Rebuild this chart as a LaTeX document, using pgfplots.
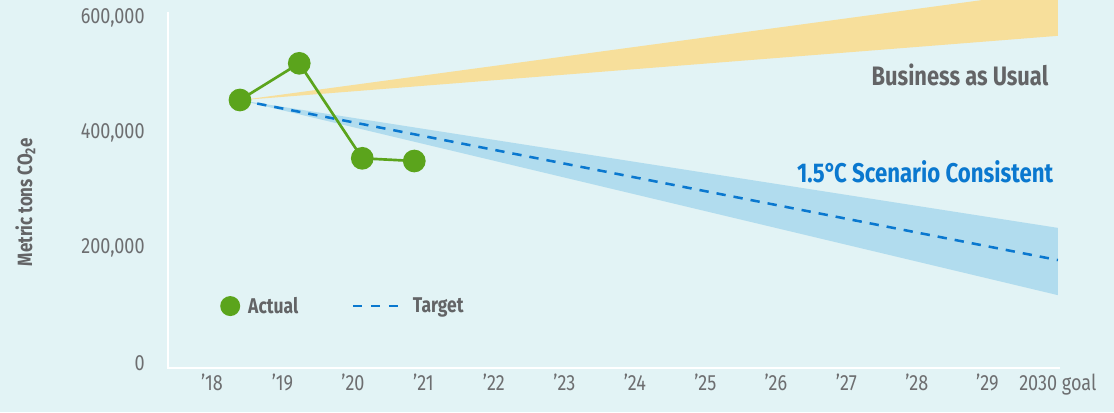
\documentclass[border=0pt]{standalone}
\usepackage{pgfplots}
\pgfplotsset{compat=1.18}
\usepackage{fontspec}
\setmainfont{Fira Sans}[FakeStretch=0.82]
\definecolor{bg}{HTML}{E2F3F5}
\definecolor{actgreen}{HTML}{5BA41C}
\definecolor{tgtblue}{HTML}{0A78CF}
\definecolor{bandblue}{HTML}{B1DCEE}
\definecolor{bandorange}{HTML}{F7DF9B}
\definecolor{labgray}{HTML}{636466}
\definecolor{tickgray}{HTML}{6D6E70}
\begin{document}
\begin{tikzpicture}
\path[use as bounding box, fill=bg] (-126pt,-33pt) rectangle (709.5pt,276pt);
\begin{axis}[
  scale only axis,
  width=669pt, height=276pt,
  xmin=2017.376, xmax=2030.03,
  ymin=-8700, ymax=631300,
  axis line style={draw=none},
  major tick length=0pt,
  xtick={2018,2019,...,2030},
  xticklabels={’18,’19,’20,’21,’22,’23,’24,’25,’26,’27,’28,’29,2030 goal},
  ytick={0,200000,400000,600000},
  yticklabels={0,{200,000},{400,000},{600,000}},
  ticklabel style={font=\fontsize{16.5}{16.5}\selectfont, text=tickgray},
  yticklabel style={xshift=-14pt},
  xticklabel style={yshift=-1pt},
  clip=true,
  legend style={at={(axis cs:2018.113,99000)}, anchor=west, draw=none, fill=none,
    inner sep=0pt, font=\bfseries\fontsize{16}{16}\selectfont, text=labgray,
    /tikz/every even column/.append style={column sep=38pt}},
  legend columns=2,
  legend cell align=left,
]
\addlegendimage{legend image code/.code={\path[draw=none,fill=none] (0,0) -- (19pt,0); \fill[actgreen, draw=none] (7.5pt,0) circle (7.5pt);}}
\addlegendentry{Actual}
\addlegendimage{legend image code/.code={\path[draw=none,fill=none] (0,0) -- (43pt,0); \draw[tgtblue, line width=2pt, dash pattern=on 6.75pt off 6.75pt] (0,0) -- (34pt,0);}}
\addlegendentry{Target}
% Business as usual band
\addplot[fill=bandorange, draw=none, forget plot] coordinates {(2018.40,457000) (2030,569000) (2030,649000)} -- cycle;
% 1.5C band
\addplot[fill=bandblue, draw=none, forget plot] coordinates {(2018.40,457000) (2030,235000) (2030,118000)} -- cycle;
% Target
\addplot[tgtblue, line width=1.9pt, dash pattern=on 7pt off 6pt, forget plot] coordinates {(2018.40,457000) (2030,179000)};
% Actual
\addplot[actgreen, line width=2pt, mark=*, mark size=7.5pt, mark options={solid, fill=actgreen, draw=none}, forget plot]
  coordinates {(2018.397,457400) (2019.238,521200) (2020.132,356000) (2020.870,351300)};
\node[anchor=east, font=\bfseries\fontsize{20}{20}\selectfont, text=labgray] at (axis cs:2029.93,501000) {Business as Usual};
\node[anchor=east, font=\bfseries\fontsize{20.3}{20.3}\selectfont, text=tgtblue] at (axis cs:2030.0,332000) {1.5°\kern-1.5pt C Scenario Consistent};
\end{axis}
\node[rotate=90, font=\bfseries\fontsize{15.5}{15.5}\selectfont, text=labgray] at (-107pt,124.5pt) {Metric tons CO\textsubscript{2}e};
\draw[white, line width=2pt] (0,267pt) -- (0,0) -- (669pt,0);
\end{tikzpicture}
\end{document}
